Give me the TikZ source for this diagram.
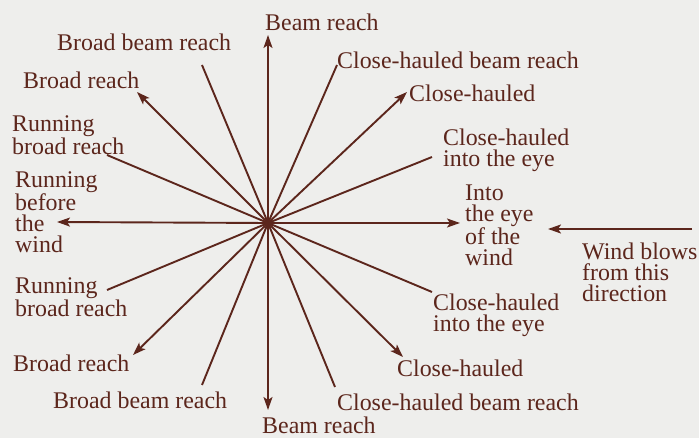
\documentclass[tikz,border=0pt]{standalone}
\usepackage{fontspec}
\setmainfont{Liberation Serif}
\usetikzlibrary{arrows.meta}
\definecolor{ink}{RGB}{92,38,28}
\definecolor{paper}{RGB}{238,238,236}
\begin{document}
\begin{tikzpicture}[x=1pt,y=-1pt,
  ray/.style={draw=ink, line width=1.9pt},
  tip/.style={-{Stealth[length=13pt,width=9pt,inset=3pt]}},
  lbl/.style={text=ink, anchor=west, inner sep=0pt, align=left,
    font=\fontsize{23.9}{21}\selectfont}]
\fill[paper] (0,0) rectangle (699,438);
\useasboundingbox (0,0) rectangle (699,438);
\coordinate (c) at (268,223);
% ray ends
\coordinate (eU)    at (268,35);
\coordinate (eBBRu) at (202,65);
\coordinate (eBRu)  at (137,92);
\coordinate (eRBRu) at (107,155);
\coordinate (eL)    at (57,222);
\coordinate (eRBRd) at (107,290);
\coordinate (eBRd)  at (133,355);
\coordinate (eBBRd) at (202,385);
\coordinate (eD)    at (268,410);
\coordinate (eCBRd) at (335,387);
\coordinate (eCHd)  at (403,357);
\coordinate (eCIEd) at (432,292);
\coordinate (eR)    at (460,223);
\coordinate (eCIEu) at (432,157);
\coordinate (eCHu)  at (407,92);
\coordinate (eCBRu) at (337,65);
\coordinate (wS)    at (692,229);
\coordinate (wE)    at (548,229);
% labels
\node[lbl] (lBRt)  at (265,22)  {Beam reach};
\node[lbl] (lBBRu) at (57,42)   {Broad beam reach};
\node[lbl] (lBRu)  at (23,80)   {Broad reach};
\node[lbl] (lRBRu) at (12,135)  {Running\\broad reach};
\node[lbl] (lRBW)  at (15,212)  {Running\\before\\the\\wind};
\node[lbl] (lCBRu) at (337,60)  {Close-hauled beam reach};
\node[lbl] (lCHu)  at (409,93)  {Close-hauled};
\node[lbl] (lCIEu) at (443,150) {Close-hauled\\into the eye};
\node[lbl] (lIEW)  at (465,225) {Into\\the eye\\of the\\wind};
\node[lbl] (lWB)   at (582,272) {Wind blows\\from this\\direction};
\node[lbl] (lRBRd) at (15,297)  {Running\\broad reach};
\node[lbl] (lBRd)  at (13,363)  {Broad reach};
\node[lbl] (lBBRd) at (53,400)  {Broad beam reach};
\node[lbl] (lBRb)  at (262,425) {Beam reach};
\node[lbl] (lCBRd) at (337,402) {Close-hauled beam reach};
\node[lbl] (lCHd)  at (397,368) {Close-hauled};
\node[lbl] (lCIEd) at (433,315) {Close-hauled\\into the eye};
% rays
\draw[ray,tip] (c) -- (eU);
\draw[ray]     (c) -- (eBBRu);
\draw[ray,tip] (c) -- (eBRu);
\draw[ray]     (c) -- (eRBRu);
\draw[ray,tip] (c) -- (eL);
\draw[ray]     (c) -- (eRBRd);
\draw[ray,tip] (c) -- (eBRd);
\draw[ray]     (c) -- (eBBRd);
\draw[ray,tip] (c) -- (eD);
\draw[ray]     (c) -- (eCBRd);
\draw[ray,tip] (c) -- (eCHd);
\draw[ray]     (c) -- (eCIEd);
\draw[ray,tip] (c) -- (eR);
\draw[ray]     (c) -- (eCIEu);
\draw[ray,tip] (c) -- (eCHu);
\draw[ray]     (c) -- (eCBRu);
\fill[ink] (c) circle (3pt);
\draw[ray,tip] (wS) -- (wE);
\end{tikzpicture}
\end{document}
